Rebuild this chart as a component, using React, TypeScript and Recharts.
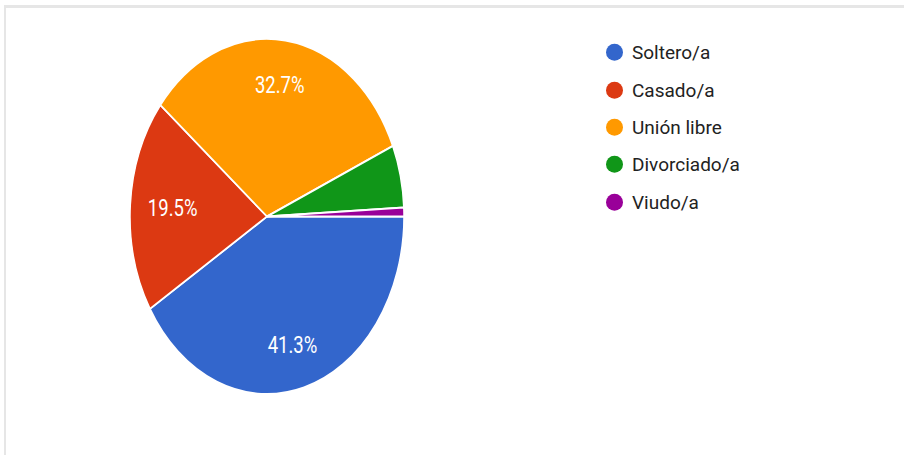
import { PieChart, Pie, Cell, Legend } from "recharts"

const CATEGORIES = ["Soltero/a", "Casado/a", "Unión libre", "Divorciado/a", "Viudo/a"]
const VALUES = [41.3, 19.5, 32.7, 5.7, 0.8]
const COLORS = ["#3366cc", "#dc3912", "#ff9900", "#109618", "#990099"]

// the source picture is stretched vertically
const SY = 1.296
const RAD = Math.PI / 180

const data = CATEGORIES.map((name, i) => ({ name, value: VALUES[i] }))

const renderLabel = (props: any) => {
  const { cx, cy, midAngle, outerRadius, value } = props
  if (value < 10) return null
  const x = cx + outerRadius * 0.69 * Math.cos(-midAngle * RAD)
  const y = cy + outerRadius * 0.75 * Math.sin(-midAngle * RAD)
  return (
    <text
      x={x}
      y={y}
      fill="#ffffff"
      textAnchor="middle"
      dominantBaseline="central"
      style={{ fontFamily: "Roboto, Arial, sans-serif", fontSize: 18.5 }}
    >
      {`${value.toFixed(1)}%`}
    </text>
  )
}

const LegendList = (props: any) => {
  // keep the data order, not alphabetical
  const items = [...(props.payload ?? [])].sort(
    (a: any, b: any) => CATEGORIES.indexOf(a.value) - CATEGORIES.indexOf(b.value)
  )
  return (
    <div style={{ fontFamily: "Roboto, Arial, sans-serif", fontSize: 19, color: "#222" }}>
      {items.map((p: any) => (
        <div key={p.value} style={{ display: "flex", alignItems: "center", height: 37.4 }}>
          <span
            style={{
              width: 17,
              height: 17,
              borderRadius: "50%",
              background: p.color,
              marginRight: 9,
              display: "inline-block",
            }}
          />
          <span>{p.value}</span>
        </div>
      ))}
    </div>
  )
}

export default function App() {
  return (
    <div style={{ position: "absolute", left: 0, top: 0, width: 904, height: 455, background: "#fff", overflow: "hidden" }}>
      {/* frame lines */}
      <div style={{ position: "absolute", left: 4, top: 5, width: 900, height: 3, background: "#e6e6e6" }} />
      <div style={{ position: "absolute", left: 4, top: 5, width: 2, height: 450, background: "#e6e6e6" }} />

      <div
        style={{
          position: "absolute",
          left: 0,
          top: 0,
          width: 904,
          height: 455 / SY,
          transform: `scaleY(${SY})`,
          transformOrigin: "top left",
        }}
      >
        <PieChart width={904} height={455 / SY} margin={{ top: 0, right: 0, bottom: 0, left: 0 }}>
          <Pie
            data={data}
            dataKey="value"
            nameKey="name"
            cx={267}
            cy={216.5 / SY}
            outerRadius={137}
            startAngle={0}
            endAngle={-360}
            stroke="#ffffff"
            strokeWidth={1.5}
            label={renderLabel}
            labelLine={false}
            isAnimationActive={false}
          >
            {data.map((d, i) => (
              <Cell key={d.name} fill={COLORS[i]} />
            ))}
          </Pie>
          <Legend
            content={<LegendList />}
            wrapperStyle={{
              position: "absolute",
              left: 606,
              top: 33.6 / SY,
              width: 220,
              transform: `scaleY(${1 / SY})`,
              transformOrigin: "top left",
            }}
          />
        </PieChart>
      </div>
    </div>
  )
}
